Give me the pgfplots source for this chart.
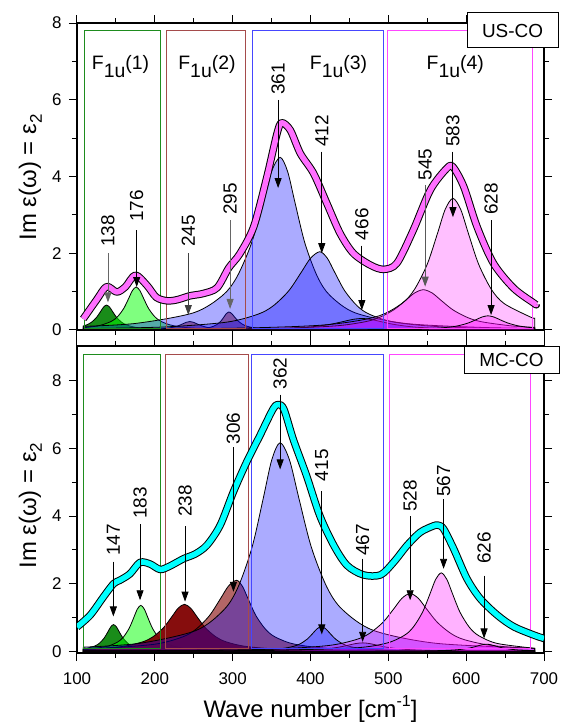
\documentclass[border=0pt]{standalone}
\usepackage{fontspec}
\setmainfont{Liberation Sans}
\usepackage{pgfplots}
\usepackage{pgfplotstable}
\pgfplotsset{compat=1.18}
\usetikzlibrary{arrows.meta}

\definecolor{dgreen}{RGB}{0,128,0}
\definecolor{lgreen}{RGB}{0,255,0}
\definecolor{dred}{RGB}{128,0,0}
\definecolor{pblue}{RGB}{0,0,255}
\definecolor{pmag}{RGB}{255,0,255}
\definecolor{boxgreen}{RGB}{30,140,30}
\definecolor{boxred}{RGB}{165,75,75}
\definecolor{boxblue}{RGB}{70,70,255}
\definecolor{boxmag}{RGB}{255,70,255}
\definecolor{expink}{RGB}{255,110,255}
\definecolor{excyan}{RGB}{0,255,255}

% measured spectra (thick curves)
\pgfplotstableread{
x y
108 0.29
125 0.78
138 1.13
151 0.99
162 1.12
175 1.43
190 1.16
202 0.85
216 0.76
229 0.79
245 0.89
262 0.95
280 1.10
295 1.62
309 1.98
327 2.69
344 3.99
357 5.12
363 5.40
374 5.21
387 4.60
404 4.08
421 3.30
438 2.52
455 2.00
477 1.69
494 1.58
511 1.74
532 2.60
554 3.65
575 4.21
583 4.25
597 3.73
614 2.69
635 1.74
661 1.09
687 0.70
690 0.66
}\usco

\pgfplotstableread{
x y
100 0.72
117 1.07
134 1.61
147 2.00
155 2.10
168 2.29
181 2.63
194 2.58
207 2.42
220 2.53
237 2.74
252 2.88
267 3.14
284 3.73
301 4.72
318 5.60
335 6.38
352 7.17
359 7.30
366 7.15
378 6.26
395 5.19
412 4.01
430 3.13
447 2.54
468 2.26
490 2.26
507 2.64
524 3.13
541 3.52
558 3.71
564 3.73
571 3.62
584 3.03
601 2.15
618 1.56
640 1.07
661 0.73
687 0.48
700 0.38
}\mcco

\newcommand\peak[6][black]{%
  \node[plabel] at (axis cs:#2,#3) {#6};
  \draw[parrow,#1] (axis cs:#2,#4) -- (axis cs:#2,#5);}
\newcommand\Fu[1]{F\raisebox{-0.42em}{1u}(#1)}

\tikzset{
  plabel/.style={rotate=90, anchor=west, inner sep=0pt, font=\fontsize{19}{19}\selectfont},
  flabel/.style={anchor=base, inner sep=0pt, font=\fontsize{19.5}{19.5}\selectfont},
  parrow/.style={line width=0.9bp, -{Triangle[length=10bp,width=7bp]}},
}
\pgfplotsset{
  panel/.style={
    scale only axis, width=467bp, height=307bp,
    xmin=100, xmax=700, xtick={100,200,...,700}, ytick={0,2,...,8},
    minor x tick num=1, minor y tick num=1,
    tick align=outside, major tick length=8bp, minor tick length=5bp,
    axis line style={line width=1.1bp},
    every tick/.append style={black, line width=1bp},
    every minor tick/.append style={black, line width=1bp},
    tick label style={font=\fontsize{17}{17}\selectfont},
    xticklabel style={yshift=-8bp},
    yticklabel style={xshift=-4bp},
    /pgf/number format/assume math mode=true,
    label style={font=\fontsize{24}{24}\selectfont},
  },
  comp/.style n args={2}{draw=black, line width=0.8bp, smooth, fill=#1, fill opacity=#2},
}

\begin{document}
\begin{tikzpicture}
\useasboundingbox (-77bp,-72bp) rectangle (486bp,653bp);

% ---------------- MC-CO ----------------
\begin{axis}[panel, name=bot, at={(0,0)}, anchor=south west,
  ymin=-0.05, ymax=9.03,
  xlabel={Wave number [cm\raisebox{0.85ex}{\fontsize{16}{16}\selectfont -1}]},
  xlabel style={at={(axis description cs:0.5,-0.2085)}, anchor=base},
  ylabel={Im ε(ω) = ε\raisebox{-0.45ex}{\fontsize{17}{17}\selectfont 2}},
  ylabel style={at={(axis description cs:-0.1,0.48)}, anchor=center},
]
\addplot[comp={dgreen}{0.9}] coordinates {(108,0.068)(111,0.079)(123,0.158)(129,0.243)(135,0.395)(139.8,0.58)(143.4,0.724)(147,0.79)(150.6,0.724)(154.2,0.58)(159,0.395)(165,0.243)(171,0.158)(183,0.079)(207,0.03)(280,0.006)(688,0)} \closedcycle;
\addplot[comp={lgreen}{0.5}] coordinates {(108,0.054)(137,0.136)(152,0.272)(159.5,0.418)(167,0.68)(173,1.0)(177.5,1.247)(182,1.36)(186.5,1.247)(191,1.0)(197,0.68)(204.5,0.418)(212,0.272)(227,0.136)(257,0.052)(350,0.011)(688,0.001)} \closedcycle;
\addplot[comp={dred}{0.95}] coordinates {(108,0.057)(157,0.139)(184,0.278)(197.5,0.428)(211,0.695)(221.8,1.022)(229.9,1.275)(238,1.39)(246.1,1.275)(254.2,1.022)(265,0.695)(278.5,0.428)(292,0.278)(319,0.139)(373,0.054)(500,0.015)(688,0.005)} \closedcycle;
\addplot[comp={dred}{0.6}] coordinates {(108,0.064)(130,0.081)(200,0.21)(235,0.42)(252.5,0.646)(270,1.05)(284,1.544)(294.5,1.926)(305,2.1)(312.5,1.926)(320,1.544)(330,1.05)(342.5,0.646)(355,0.42)(380,0.21)(430,0.081)(550,0.021)(688,0.009)} \closedcycle;
\addplot[comp={pblue}{0.33}] coordinates {(108,0.122)(181,0.238)(253,0.617)(289,1.234)(307,1.9)(325,3.085)(339.4,4.535)(350.2,5.66)(361,6.17)(373,5.66)(385,4.535)(401,3.085)(421,1.9)(441,1.234)(481,0.617)(561,0.238)(688,0.091)} \closedcycle;
\addplot[comp={pblue}{0.33}] coordinates {(108,0.003)(250,0.009)(324,0.028)(360,0.073)(378,0.146)(387,0.225)(396,0.365)(403.2,0.537)(408.6,0.669)(414,0.73)(419.4,0.669)(424.8,0.537)(432,0.365)(441,0.225)(450,0.146)(468,0.073)(504,0.028)(600,0.007)(688,0.003)} \closedcycle;
\addplot[comp={pblue}{0.33}] coordinates {(108,0.002)(317,0.01)(377,0.025)(407,0.05)(422,0.077)(437,0.125)(449,0.184)(458,0.229)(467,0.25)(476,0.229)(485,0.184)(497,0.125)(512,0.077)(527,0.05)(557,0.025)(617,0.01)(688,0.005)} \closedcycle;
\addplot[comp={pmag}{0.3}] coordinates {(108,0.012)(250,0.026)(353,0.066)(423,0.171)(458,0.342)(475.5,0.526)(493,0.855)(507,1.257)(517.5,1.568)(528,1.71)(538.5,1.568)(549,1.257)(563,0.855)(580.5,0.526)(598,0.342)(633,0.171)(688,0.078)} \closedcycle;
\addplot[comp={pmag}{0.3}] coordinates {(108,0.006)(300,0.019)(448,0.089)(496,0.232)(520,0.464)(532,0.714)(544,1.16)(553.6,1.705)(560.8,2.127)(568,2.32)(575.2,2.127)(582.4,1.705)(592,1.16)(604,0.714)(616,0.464)(640,0.232)(688,0.089)} \closedcycle;
\addplot[comp={pmag}{0.3}] coordinates {(108,0.001)(400,0.002)(526,0.008)(566,0.021)(586,0.042)(596,0.065)(606,0.105)(614,0.154)(620,0.193)(626,0.21)(632,0.193)(638,0.154)(646,0.105)(656,0.065)(666,0.042)(686,0.021)(688,0.02)} \closedcycle;

\draw[boxgreen, line width=1bp] (axis cs:108,0.09) rectangle (axis cs:207.5,8.79);
\draw[boxred, line width=1bp] (axis cs:214,0.09) rectangle (axis cs:320,8.79);
\draw[boxblue, line width=1bp] (axis cs:324.5,0.09) rectangle (axis cs:493.7,8.79);
\draw[boxmag, line width=1bp] (axis cs:501,0.09) rectangle (axis cs:683,8.79);

\addplot[black, line width=7.5bp, smooth, line join=round] table {\mcco};
\addplot[excyan, line width=5.5bp, smooth, line join=round] table {\mcco};

\peak{146.7}{2.82}{2.65}{1.03}{147}
\peak{181}{3.91}{3.76}{1.51}{183}
\peak{238.8}{3.97}{3.70}{1.47}{238}
\peak{301}{6.12}{6.03}{1.76}{306}
\peak{361}{7.74}{7.59}{5.38}{362}
\peak{414.5}{5.03}{4.74}{0.50}{415}
\peak{467}{2.82}{2.74}{0.28}{467}
\peak{528}{4.12}{4.00}{1.51}{528}
\peak{571}{4.56}{4.50}{2.44}{567}
\peak{623}{2.59}{2.24}{0.38}{626}
\end{axis}

% ---------------- US-CO ----------------
\begin{axis}[panel, name=top, at={(0,323bp)}, anchor=south west,
  ymin=0, ymax=8, xticklabels={},
  ylabel={Im ε(ω) = ε\raisebox{-0.45ex}{\fontsize{17}{17}\selectfont 2}},
  ylabel style={at={(axis description cs:-0.1,0.497)}, anchor=center},
]
\addplot[comp={dgreen}{0.9}] coordinates {(108,0.103)(112,0.13)(118.5,0.2)(125,0.325)(130.2,0.478)(134.1,0.596)(138,0.65)(141.9,0.596)(145.8,0.478)(151,0.325)(157.5,0.2)(164,0.13)(177,0.065)(203,0.025)(260,0.007)(400,0.002)(688,0)} \closedcycle;
\addplot[comp={lgreen}{0.5}] coordinates {(108,0.059)(128,0.112)(144,0.224)(152,0.345)(160,0.56)(166.4,0.823)(171.2,1.027)(176,1.12)(180.8,1.027)(185.6,0.823)(192,0.56)(200,0.345)(208,0.224)(224,0.112)(256,0.043)(350,0.009)(688,0.001)} \closedcycle;
\addplot[comp={dred}{0.5}] coordinates {(108,0.003)(170,0.009)(200,0.022)(215,0.044)(222.5,0.068)(230,0.11)(236,0.162)(240.5,0.202)(245,0.22)(249.5,0.202)(254,0.162)(260,0.11)(267.5,0.068)(275,0.044)(290,0.022)(320,0.009)(450,0.001)(688,0)} \closedcycle;
\addplot[comp={dred}{0.5}] coordinates {(108,0.001)(200,0.005)(245,0.018)(265,0.047)(275,0.094)(280,0.145)(285,0.235)(289,0.345)(292,0.431)(295,0.47)(298.6,0.431)(302.2,0.345)(307,0.235)(313,0.145)(319,0.094)(331,0.047)(355,0.018)(450,0.002)(688,0)} \closedcycle;
\addplot[comp={pblue}{0.33}] coordinates {(108,0.094)(176,0.173)(250,0.45)(287,0.9)(305.5,1.385)(324,2.25)(338.8,3.31)(349.9,4.13)(361,4.5)(370.6,4.13)(380.2,3.31)(393,2.25)(409,1.385)(425,0.9)(457,0.45)(521,0.173)(617,0.069)(688,0.043)} \closedcycle;
\addplot[comp={pblue}{0.33}] coordinates {(108,0.035)(212,0.079)(292,0.204)(332,0.408)(352,0.628)(372,1.02)(388,1.5)(400,1.87)(412,2.04)(421.6,1.87)(431.2,1.5)(444,1.02)(460,0.628)(476,0.408)(508,0.204)(572,0.079)(688,0.027)} \closedcycle;
\addplot[comp={pblue}{0.33}] coordinates {(108,0.004)(266,0.012)(346,0.03)(386,0.06)(406,0.092)(426,0.15)(442,0.22)(454,0.275)(466,0.3)(478,0.275)(490,0.22)(506,0.15)(526,0.092)(546,0.06)(586,0.03)(666,0.012)(688,0.009)} \closedcycle;
\addplot[comp={pmag}{0.3}] coordinates {(108,0.008)(250,0.017)(355,0.04)(431,0.105)(469,0.21)(488,0.323)(507,0.525)(522.2,0.772)(533.6,0.963)(545,1.05)(556.4,0.963)(567.8,0.772)(583,0.525)(602,0.323)(621,0.21)(659,0.105)(688,0.069)} \closedcycle;
\addplot[comp={pmag}{0.25}] coordinates {(108,0.017)(300,0.046)(418,0.132)(484,0.343)(517,0.686)(533.5,1.055)(550,1.715)(563.2,2.52)(573.1,3.145)(583,3.43)(592.9,3.145)(602.8,2.52)(616,1.715)(632.5,1.055)(649,0.686)(682,0.343)(688,0.308)} \closedcycle;
\addplot[comp={pmag}{0.3}] coordinates {(108,0.001)(400,0.004)(503,0.014)(553,0.037)(578,0.074)(590.5,0.114)(603,0.185)(613,0.272)(620.5,0.339)(628,0.37)(635.5,0.339)(643,0.272)(653,0.185)(665.5,0.114)(678,0.074)(688,0.055)} \closedcycle;

\draw[boxgreen, line width=1bp] (axis cs:110,0.05) rectangle (axis cs:207.5,7.81);
\draw[boxred, line width=1bp] (axis cs:215,0.05) rectangle (axis cs:316,7.81);
\draw[boxblue, line width=1bp] (axis cs:325,0.05) rectangle (axis cs:494,7.81);
\draw[boxmag, line width=1bp] (axis cs:499,0.05) rectangle (axis cs:685,7.81);

\addplot[black, line width=7.5bp, smooth, line join=round] table {\usco};
\addplot[expink, line width=5.5bp, smooth, line join=round] table {\usco};

\node[flabel] at (axis cs:156,6.8) {\Fu{1}};
\node[flabel] at (axis cs:267,6.8) {\Fu{2}};
\node[flabel] at (axis cs:436,6.8) {\Fu{3}};
\node[flabel] at (axis cs:586,6.8) {\Fu{4}};

\peak[black!60]{139.8}{2.16}{2.00}{0.72}{138}
\peak{176.7}{2.81}{2.60}{1.12}{176}
\peak[black!75]{243}{2.16}{2.00}{0.39}{245}
\peak[black!60]{296.7}{3.00}{2.86}{0.55}{295}
\peak{358.4}{6.12}{6.00}{3.70}{361}
\peak{414.5}{4.77}{4.65}{2.00}{412}
\peak{466}{2.34}{2.20}{0.52}{466}
\peak[black!65]{547.3}{3.90}{3.78}{1.13}{545}
\peak{583}{4.77}{4.65}{2.94}{583}
\peak{632}{3.00}{2.86}{0.39}{628}
\end{axis}

\node[draw, fill=white, line width=1bp, inner sep=0pt, minimum width=91bp, minimum height=35bp,
  font=\fontsize{19}{19}\selectfont] at ([xshift=435.5bp,yshift=299.5bp]top.south west) {US-CO};
\node[draw, fill=white, line width=1bp, inner sep=0pt, minimum width=95bp, minimum height=27bp,
  font=\fontsize{19}{19}\selectfont] at ([xshift=434.5bp,yshift=293bp]bot.south west) {MC-CO};
\end{tikzpicture}
\end{document}
